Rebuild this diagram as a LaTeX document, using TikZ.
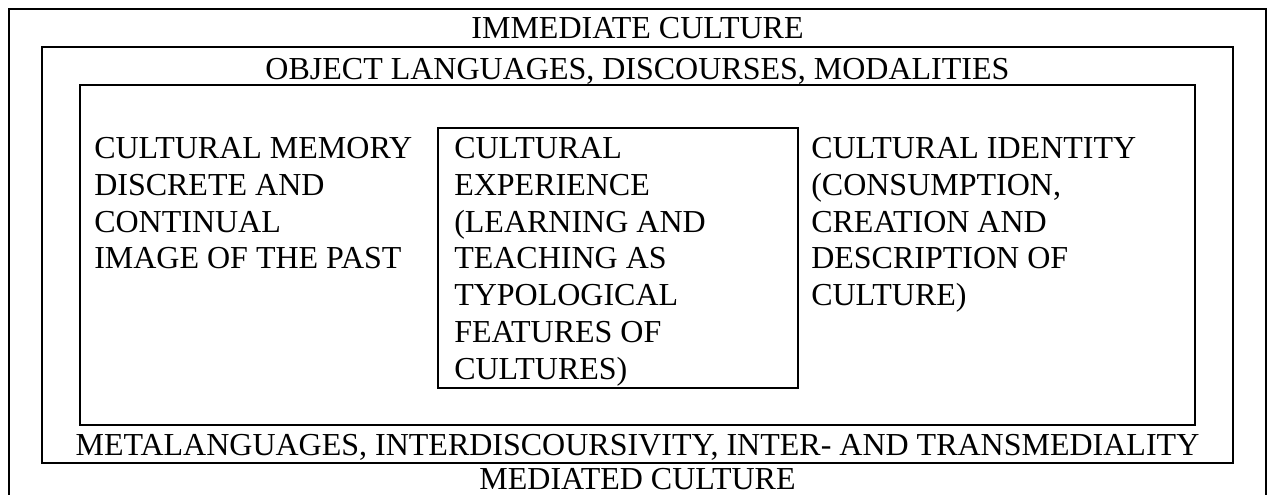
\documentclass[tikz,border=0pt]{standalone}
\usepackage{fontspec}
\setmainfont{Liberation Serif}
\tikzset{
  frametext/.style={inner sep=0pt, anchor=base, font=\fontsize{32}{36.8}\selectfont},
  columntext/.style={inner sep=0pt, anchor=north west, align=left, font=\fontsize{32}{36.8}\selectfont}
}
\begin{document}
\begin{tikzpicture}[x=1pt,y=-1pt,line width=2.5pt]
        \useasboundingbox (0,0) rectangle (1271,495);
        %% Frames
        \draw (9,495) -- (9,9) -- (1266,9) -- (1266,495);
        \draw (42,47) rectangle (1233,463);
        \draw (80,85) rectangle (1195,425);
        \draw (438,128) rectangle (798,388);
        %% Frame labels
        \node[frametext] (immediate) at (637.5,38) {IMMEDIATE CULTURE};
        \node[frametext] (object) at (637.5,80) {OBJECT LANGUAGES, DISCOURSES, MODALITIES};
        \node[frametext] (meta) at (637.5,455) {METALANGUAGES, INTERDISCOURSIVITY, INTER- AND TRANSMEDIALITY};
        \node[frametext] (mediated) at (637.5,489) {MEDIATED CULTURE};
        %% Columns
        \node[columntext] (memory) at (93,136) {CULTURAL MEMORY\\DISCRETE AND\\CONTINUAL\\IMAGE OF THE PAST};
        \node[columntext] (experience) at (453,136) {CULTURAL\\EXPERIENCE\\(LEARNING AND\\TEACHING AS\\TYPOLOGICAL\\FEATURES OF\\CULTURES)};
        \node[columntext] (identity) at (810,136) {CULTURAL IDENTITY\\(CONSUMPTION,\\CREATION AND\\DESCRIPTION OF\\CULTURE)};
    \end{tikzpicture}
\end{document}
